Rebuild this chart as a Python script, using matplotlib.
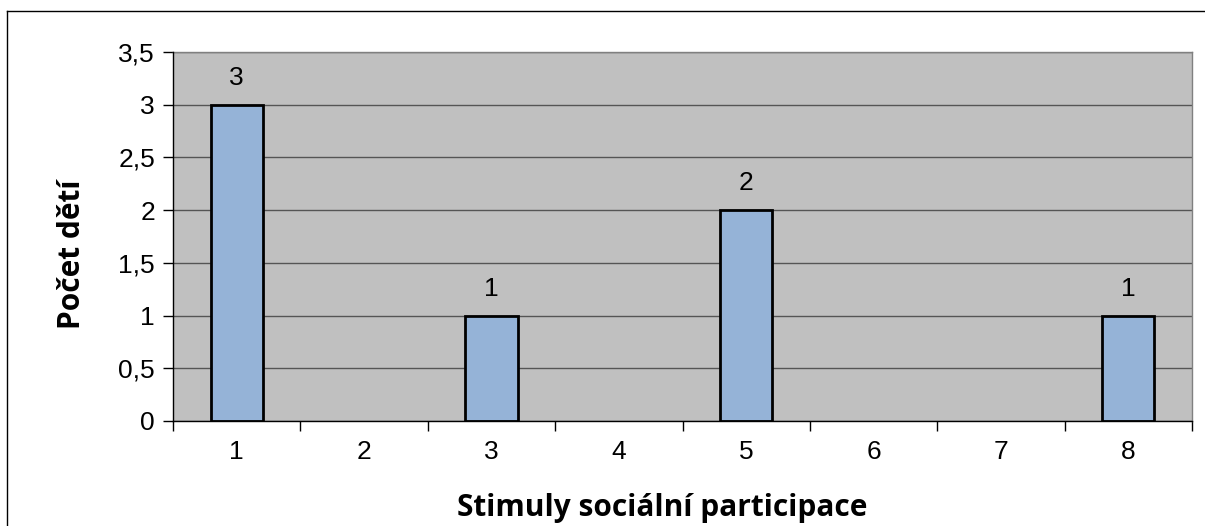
import matplotlib
matplotlib.use("Agg")
import matplotlib.pyplot as plt
from matplotlib.lines import Line2D

categories = ["1", "2", "3", "4", "5", "6", "7", "8"]
values = [3, 0, 1, 0, 2, 0, 0, 1]
yticks = [0, 0.5, 1, 1.5, 2, 2.5, 3, 3.5]
ytick_labels = ["0", "0,5", "1", "1,5", "2", "2,5", "3", "3,5"]
xlabel = "Stimuly sociální participace"
ylabel = "Počet dětí"

W, H = 1205, 526
fig = plt.figure(figsize=(W / 100, H / 100), dpi=100)
ax = fig.add_axes([173 / W, 1 - 421 / H, (1192 - 173) / W, (421 - 52) / H])
ax.set_facecolor("#C0C0C0")

x = list(range(len(categories)))
lws = [2 if v else 0 for v in values]
ax.bar(x, values, width=0.41, color="#95B3D7", edgecolor="black", linewidth=lws, zorder=3)
for xi, v in zip(x, values):
    if v:
        ax.text(xi, v + 0.14, str(v), ha="center", va="bottom", fontsize=19,
                family="Liberation Sans", zorder=4)

ax.set_xlim(-0.5, len(categories) - 0.5)
ax.set_ylim(0, 3.5)
ax.set_yticks(yticks)
ax.set_yticklabels(ytick_labels, family="Liberation Sans", fontsize=19)
ax.set_xticks(x)
ax.set_xticklabels(categories, family="Liberation Sans", fontsize=19)
ax.tick_params(axis="x", length=0, pad=14)
ax.tick_params(axis="y", length=7, width=1, direction="out", pad=6)
ax.set_xticks([i - 0.5 for i in range(len(categories) + 1)], minor=True)
ax.tick_params(axis="x", which="minor", length=7, width=1, direction="out")
ax.yaxis.grid(True, color="#555555", linewidth=1, zorder=1)
ax.set_axisbelow(True)

for s in ["top", "right"]:
    ax.spines[s].set_color("#808080")
    ax.spines[s].set_linewidth(1)
for s in ["left", "bottom"]:
    ax.spines[s].set_color("#000000")
    ax.spines[s].set_linewidth(1)
    ax.spines[s].set_zorder(5)

fig.text(662 / W, 1 - 508 / H, xlabel, ha="center", va="center",
         fontsize=21.5, fontweight="bold", family="Open Sans")
fig.text(72 / W, 1 - 254 / H, ylabel, ha="center", va="center", rotation=90,
         fontsize=21.5, fontweight="bold", family="Open Sans")

# outer chart border
fig.add_artist(Line2D([7 / W, 7 / W], [0, 1 - 11 / H], transform=fig.transFigure, color="black", linewidth=1))
fig.add_artist(Line2D([7 / W, 1], [1 - 11 / H, 1 - 11 / H], transform=fig.transFigure, color="black", linewidth=1))

fig.savefig("out.png", dpi=100)
